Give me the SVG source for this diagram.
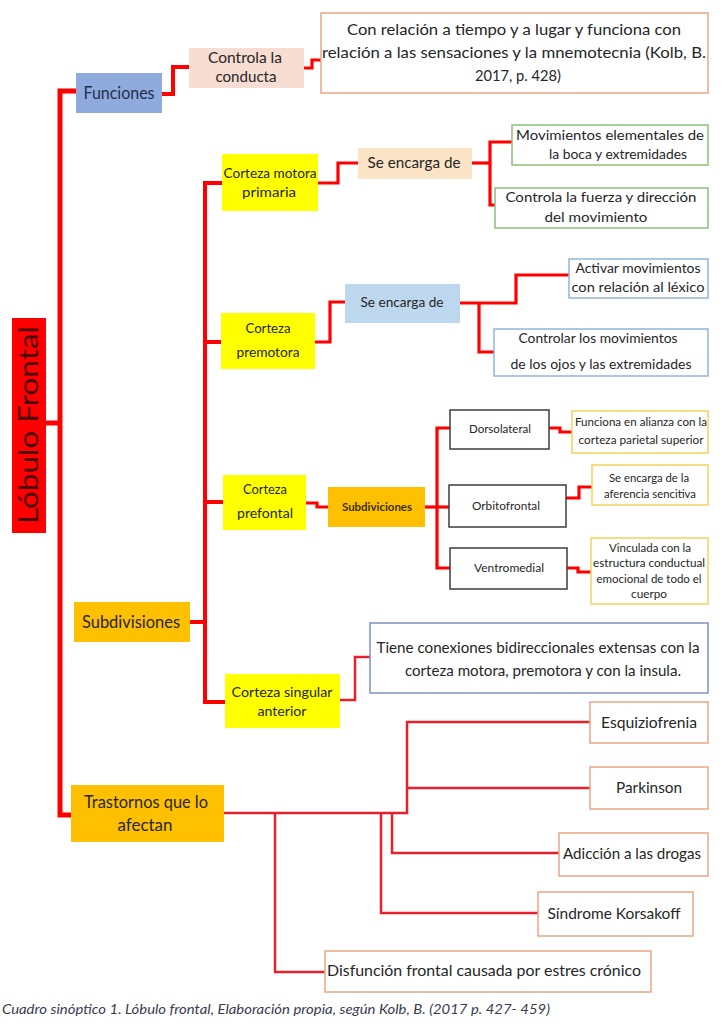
<svg xmlns="http://www.w3.org/2000/svg" width="728" height="1036" viewBox="0 0 728 1036">
<defs>
<style>
text{font-family:Lato,"Open Sans","Liberation Sans",sans-serif;fill:#262626;text-anchor:middle}
.c{fill:none;stroke:#ff0000;stroke-linejoin:miter;stroke-linecap:butt}
.w5{stroke-width:5}.w4{stroke-width:4}.w3{stroke-width:3.2}.w2{stroke-width:2.5;stroke:#e8202c}
.yel{fill:#ffff00}
.org{fill:#ffc000}
.wb{fill:#ffffff;stroke-width:1.5}
.peach{stroke:#e9a784}
.green{stroke:#8cc07a}
.blue{stroke:#93b4dc}
.gold{stroke:#f5d35a}
.dark{stroke:#3c3c3c}
.navy{stroke:#8090c0}
.f17{font-size:17px}.f16{font-size:16px}.f15{font-size:15px}.f14{font-size:14px}.f13{font-size:13px}.f11{font-size:11.5px}.f10{font-size:11px}
</style>
</defs>
<rect width="728" height="1036" fill="#ffffff"/>
<g id="connectors">
<path class="c w5" d="M76,91 H60 V815 H71"/>
<path class="c w5" d="M46,423 H60"/>
<path class="c w4" d="M162,94 H173 V67 H189"/>
<path class="c w3" d="M304,68 H312 V60 H321"/>
<path class="c w4" d="M190,622 H205"/>
<path class="c w4" d="M222,183 H205 V702 H225"/>
<path class="c w4" d="M205,342 H221"/>
<path class="c w4" d="M205,502 H223"/>
<path class="c w3" d="M318,183 H338 V163 H358"/>
<path class="c w3" d="M472,163 H490"/>
<path class="c w3" d="M512,142 H490 V205 H495"/>
<path class="c w3" d="M315,342 H330 V302 H345"/>
<path class="c w3" d="M460,303 H516 V275 H569"/>
<path class="c w3" d="M479,303 V352 H494"/>
<path class="c w3" d="M306,503 H317 V507 H328"/>
<path class="c w3" d="M425,507 H450"/>
<path class="c w3" d="M450,428 H437 V568 H450"/>
<path class="c w3" d="M549,428 H560 V432 H572"/>
<path class="c w3" d="M566,498 H579 V487 H592"/>
<path class="c w3" d="M567,568 H578 V572 H591"/>
<path class="c w2" d="M340,700 H355 V657 H370"/>
<path class="c w2" d="M224,813 H407 V722 H590"/>
<path class="c w2" d="M407,788 H590"/>
<path class="c w2" d="M392,813 V853 H559"/>
<path class="c w2" d="M381,813 V913 H538"/>
<path class="c w2" d="M275,813 V972 H325"/>
</g>
<g id="lobulo">
<rect x="12" y="318" width="34" height="215" fill="#ff0000"/>
<text transform="translate(38,425) rotate(-90)" style="font-size:27px;fill:#4a0000" textLength="198" lengthAdjust="spacingAndGlyphs">Lóbulo Frontal</text>
</g>
<g id="funciones">
<rect x="76" y="73" width="86" height="40" fill="#8faadc"/>
<text x="119" y="99" class="f17" style="fill:#1f3050" textLength="71" lengthAdjust="spacingAndGlyphs">Funciones</text>
</g>
<g id="controla">
<rect x="189" y="48" width="115" height="40" fill="#f7ddd2"/>
<text x="245" y="63" class="f15" textLength="74" lengthAdjust="spacingAndGlyphs">Controla la</text>
<text x="246" y="82" class="f15" textLength="61" lengthAdjust="spacingAndGlyphs">conducta</text>
</g>
<g id="conrelacion">
<rect x="321" y="13" width="387" height="80" class="wb peach"/>
<text x="514" y="35" class="f16" textLength="334" lengthAdjust="spacingAndGlyphs">Con relación a tiempo y a lugar y funciona con</text>
<text x="514" y="58" class="f16" textLength="384" lengthAdjust="spacingAndGlyphs">relación a las sensaciones y la mnemotecnia (Kolb, B.</text>
<text x="518" y="81" class="f16" textLength="86" lengthAdjust="spacingAndGlyphs">2017, p. 428)</text>
</g>
<g id="motora">
<rect x="222" y="154" width="96" height="57" class="yel"/>
<text x="270" y="178" class="f14" textLength="93" lengthAdjust="spacingAndGlyphs">Corteza motora</text>
<text x="269" y="197" class="f14" textLength="54" lengthAdjust="spacingAndGlyphs">primaria</text>
</g>
<g id="seencarga1">
<rect x="358" y="148" width="114" height="31" fill="#fbe5c6"/>
<text x="414" y="168" class="f16" textLength="93" lengthAdjust="spacingAndGlyphs">Se encarga de</text>
</g>
<g id="movimientos">
<rect x="512" y="125" width="196" height="40" class="wb green"/>
<text x="610" y="140" class="f14" textLength="188" lengthAdjust="spacingAndGlyphs">Movimientos elementales de</text>
<text x="618" y="159" class="f14" textLength="138" lengthAdjust="spacingAndGlyphs">la boca y extremidades</text>
</g>
<g id="fuerza">
<rect x="495" y="188" width="213" height="40" class="wb green"/>
<text x="601" y="202" class="f14" textLength="191" lengthAdjust="spacingAndGlyphs">Controla la fuerza y dirección</text>
<text x="596" y="222" class="f14" textLength="103" lengthAdjust="spacingAndGlyphs">del movimiento</text>
</g>
<g id="premotora">
<rect x="221" y="313" width="94" height="56" class="yel"/>
<text x="268" y="333" class="f14" textLength="45" lengthAdjust="spacingAndGlyphs">Corteza</text>
<text x="268" y="357" class="f14" textLength="63" lengthAdjust="spacingAndGlyphs">premotora</text>
</g>
<g id="seencarga2">
<rect x="345" y="284" width="115" height="39" fill="#bdd7ee"/>
<text x="402" y="307" class="f14" textLength="83" lengthAdjust="spacingAndGlyphs">Se encarga de</text>
</g>
<g id="activar">
<rect x="569" y="259" width="139" height="39" class="wb blue"/>
<text x="638" y="273" class="f13" textLength="125" lengthAdjust="spacingAndGlyphs">Activar movimientos</text>
<text x="638" y="292" class="f13" textLength="133" lengthAdjust="spacingAndGlyphs">con relación al léxico</text>
</g>
<g id="controlar">
<rect x="494" y="329" width="214" height="47" class="wb blue"/>
<text x="598" y="343" class="f13" textLength="159" lengthAdjust="spacingAndGlyphs">Controlar los movimientos</text>
<text x="601" y="369" class="f13" textLength="181" lengthAdjust="spacingAndGlyphs">de  los ojos y las extremidades</text>
</g>
<g id="prefontal">
<rect x="223" y="475" width="83" height="55" class="yel"/>
<text x="265" y="494" class="f13" textLength="44" lengthAdjust="spacingAndGlyphs">Corteza</text>
<text x="265" y="518" class="f13" textLength="56" lengthAdjust="spacingAndGlyphs">prefontal</text>
</g>
<g id="subdiviciones">
<rect x="328" y="487" width="97" height="40" class="org"/>
<text x="377" y="511" class="f11" style="font-weight:bold;fill:#3a3000" textLength="70" lengthAdjust="spacingAndGlyphs">Subdiviciones</text>
</g>
<g id="dorsolateral">
<rect x="450" y="410" width="99" height="39" class="wb dark"/>
<text x="500" y="433" class="f11" textLength="62" lengthAdjust="spacingAndGlyphs">Dorsolateral</text>
</g>
<g id="funciona">
<rect x="572" y="411" width="136" height="42" class="wb gold"/>
<text x="641" y="426" class="f10" textLength="132" lengthAdjust="spacingAndGlyphs">Funciona en alianza con la</text>
<text x="641" y="444" class="f10" textLength="125" lengthAdjust="spacingAndGlyphs">corteza parietal superior</text>
</g>
<g id="orbitofrontal">
<rect x="449" y="485" width="117" height="42" class="wb dark"/>
<text x="506" y="510" class="f11" textLength="68" lengthAdjust="spacingAndGlyphs">Orbitofrontal</text>
</g>
<g id="seencargala">
<rect x="592" y="465" width="116" height="40" class="wb gold"/>
<text x="649" y="482" class="f10" textLength="80" lengthAdjust="spacingAndGlyphs">Se encarga de la</text>
<text x="650" y="498" class="f10" textLength="92" lengthAdjust="spacingAndGlyphs">aferencia sencitiva</text>
</g>
<g id="ventromedial">
<rect x="450" y="548" width="117" height="41" class="wb dark"/>
<text x="509" y="572" class="f11" textLength="70" lengthAdjust="spacingAndGlyphs">Ventromedial</text>
</g>
<g id="vinculada">
<rect x="591" y="538" width="117" height="66" class="wb gold"/>
<text x="650" y="552" class="f10" textLength="82" lengthAdjust="spacingAndGlyphs">Vinculada con la</text>
<text x="649" y="567" class="f10" textLength="112" lengthAdjust="spacingAndGlyphs">estructura conductual</text>
<text x="649" y="583" class="f10" textLength="105" lengthAdjust="spacingAndGlyphs">emocional de todo el</text>
<text x="649" y="598" class="f10" textLength="36" lengthAdjust="spacingAndGlyphs">cuerpo</text>
</g>
<g id="subdivisiones">
<rect x="74" y="602" width="116" height="40" class="org"/>
<text x="131" y="628" class="f17" textLength="98" lengthAdjust="spacingAndGlyphs">Subdivisiones</text>
</g>
<g id="singular">
<rect x="225" y="674" width="115" height="54" class="yel"/>
<text x="282" y="697" class="f14" textLength="101" lengthAdjust="spacingAndGlyphs">Corteza singular</text>
<text x="282" y="716" class="f14" textLength="49" lengthAdjust="spacingAndGlyphs">anterior</text>
</g>
<g id="tiene">
<rect x="370" y="623" width="338" height="70" class="wb navy"/>
<text x="538" y="653" class="f16" textLength="323" lengthAdjust="spacingAndGlyphs">Tiene conexiones bidireccionales extensas con la</text>
<text x="543" y="676" class="f16" textLength="276" lengthAdjust="spacingAndGlyphs">corteza motora, premotora y con la insula.</text>
</g>
<g id="trastornos">
<rect x="71" y="785" width="153" height="57" class="org"/>
<text x="146" y="808" class="f17" textLength="124" lengthAdjust="spacingAndGlyphs">Trastornos que lo</text>
<text x="145" y="831" class="f17" textLength="55" lengthAdjust="spacingAndGlyphs">afectan</text>
</g>
<g id="esquiziofrenia">
<rect x="590" y="702" width="118" height="41" class="wb peach"/>
<text x="649" y="728" class="f16" textLength="96" lengthAdjust="spacingAndGlyphs">Esquiziofrenia</text>
</g>
<g id="parkinson">
<rect x="590" y="767" width="118" height="42" class="wb peach"/>
<text x="649" y="793" class="f16" textLength="66" lengthAdjust="spacingAndGlyphs">Parkinson</text>
</g>
<g id="adiccion">
<rect x="559" y="833" width="149" height="43" class="wb peach"/>
<text x="632" y="859" class="f16" textLength="138" lengthAdjust="spacingAndGlyphs">Adicción a las drogas</text>
</g>
<g id="sindrome">
<rect x="538" y="892" width="155" height="44" class="wb peach"/>
<text x="614" y="919" class="f16" textLength="133" lengthAdjust="spacingAndGlyphs">Síndrome Korsakoff</text>
</g>
<g id="disfuncion">
<rect x="325" y="951" width="326" height="41" class="wb peach"/>
<text x="484" y="976" class="f16" textLength="314" lengthAdjust="spacingAndGlyphs">Disfunción frontal causada por  estres crónico</text>
</g>
<text x="2" y="1014" style="font-size:14px;font-style:italic;fill:#3a3a50;text-anchor:start" textLength="548" lengthAdjust="spacingAndGlyphs">Cuadro sinóptico 1. Lóbulo frontal, Elaboración propia, según Kolb, B. (2017 p. 427- 459)</text>
</svg>
